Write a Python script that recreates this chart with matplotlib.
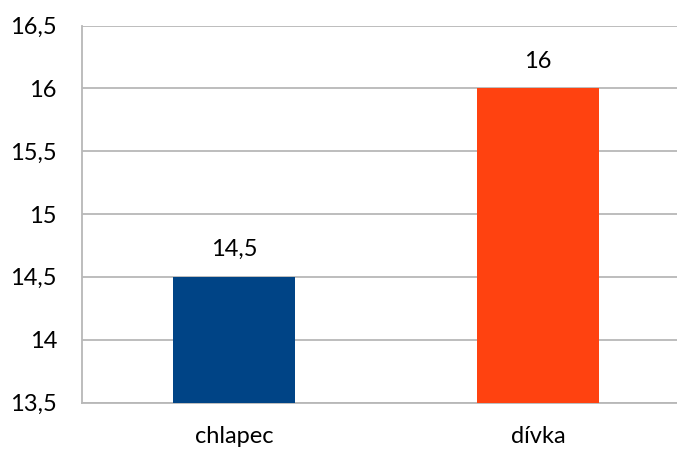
import matplotlib
matplotlib.use("Agg")
import matplotlib.pyplot as plt
from matplotlib.ticker import FuncFormatter, MultipleLocator

categories = ["chlapec", "dívka"]
values = [14.5, 16]
colors = ["#004486", "#FF4210"]
y_min, y_max = 13.5, 16.5

plt.rcParams["font.family"] = ["Lato", "DejaVu Sans"]

fig = plt.figure(figsize=(6.77, 4.5), dpi=100)
ax = fig.add_axes([82 / 677, 1 - 402.5 / 450, (690 - 82) / 677, (402.5 - 25.5) / 450])

x = range(len(categories))
bars = ax.bar(x, values, width=0.4, color=colors, zorder=3)

ax.set_xlim(-0.5, len(categories) - 0.5)
ax.set_ylim(y_min, y_max)
ax.yaxis.set_major_locator(MultipleLocator(0.5))
fmt = lambda v, _: (f"{v:g}").replace(".", ",")
ax.yaxis.set_major_formatter(FuncFormatter(fmt))
ax.set_xticks(list(x))
ax.set_xticklabels(categories)

ax.grid(axis="y", color="#b8b8b8", linewidth=1.3, zorder=0)
for side in ("top", "right"):
    ax.spines[side].set_visible(False)
for side in ("left", "bottom"):
    ax.spines[side].set_color("#b8b8b8")
    ax.spines[side].set_linewidth(1.3)

ax.tick_params(axis="both", length=0, labelsize=17)
ax.tick_params(axis="y", pad=18)
ax.tick_params(axis="x", pad=17)

for b, v in zip(bars, values):
    ax.annotate(fmt(v, None), (b.get_x() + b.get_width() / 2, v),
                xytext=(0, 12), textcoords="offset points",
                ha="center", va="bottom", fontsize=17)

fig.savefig("out.png", dpi=100)
